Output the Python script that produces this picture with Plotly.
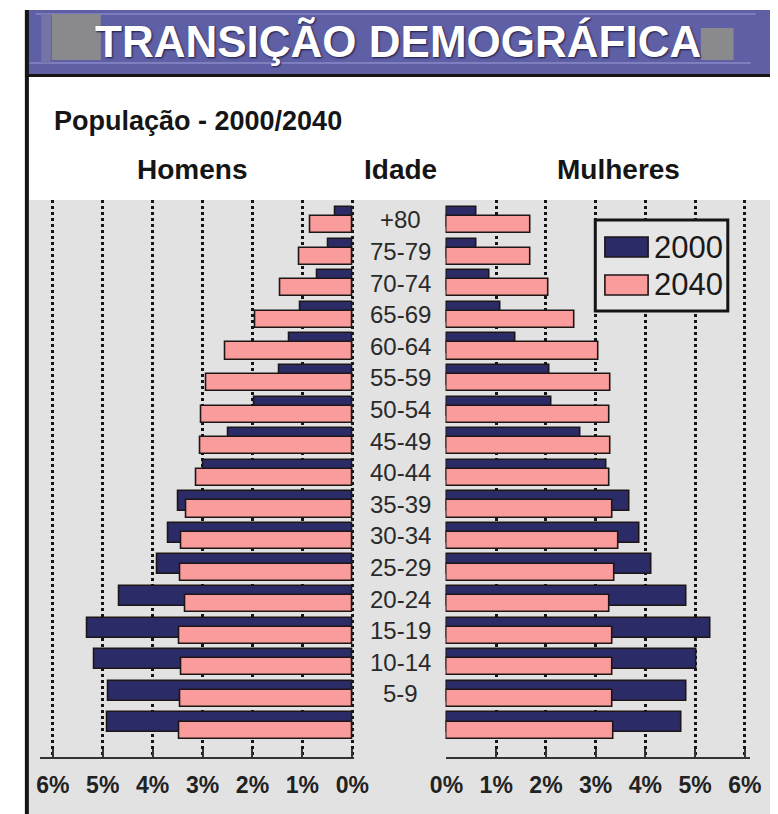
import plotly.graph_objects as go

# ---------------- data ----------------
ages = ["0-4", "5-9", "10-14", "15-19", "20-24", "25-29", "30-34", "35-39",
        "40-44", "45-49", "50-54", "55-59", "60-64", "65-69", "70-74", "75-79", "+80"]
age_labels = ["", "5-9", "10-14", "15-19", "20-24", "25-29", "30-34", "35-39",
              "40-44", "45-49", "50-54", "55-59", "60-64", "65-69", "70-74", "75-79", "+80"]
men_2000 = [4.90, 4.89, 5.17, 5.31, 4.67, 3.90, 3.69, 3.48,
            2.98, 2.48, 1.96, 1.46, 1.27, 1.04, 0.71, 0.48, 0.35]
men_2040 = [3.46, 3.44, 3.42, 3.46, 3.35, 3.44, 3.42, 3.33,
            3.13, 3.04, 3.02, 2.92, 2.54, 1.94, 1.44, 1.06, 0.85]
women_2000 = [4.72, 4.82, 5.03, 5.30, 4.82, 4.12, 3.89, 3.68,
              3.21, 2.70, 2.11, 2.07, 1.38, 1.09, 0.87, 0.61, 0.61]
women_2040 = [3.35, 3.33, 3.33, 3.33, 3.27, 3.37, 3.45, 3.33,
              3.27, 3.30, 3.27, 3.30, 3.06, 2.58, 2.06, 1.69, 1.69]
tick_vals = [0, 1, 2, 3, 4, 5, 6]
tick_text = ["0%", "1%", "2%", "3%", "4%", "5%", "6%"]
series_names = ["2000", "2040"]

# ---------------- style ----------------
W, H = 778, 814
OFF = 8  # page body margin offset
NAVY = "#2b2b68"
PINK = "#fb9c9c"
EDGE = "#1e1616"
BG = "#e2e2e2"
BANNER = "#5f5fa6"
FONT = "Liberation Sans, Arial, sans-serif"

row_pos = list(range(len(ages)))


def px(x):
    return (x - OFF) / W


def py(y):
    return 1 - (y - OFF) / H


fig = go.Figure()

bar_specs = [
    (men_2000, "x", NAVY, -0.22, 0.63, series_names[0]),
    (men_2040, "x", PINK, -0.42, 0.54, series_names[1]),
    (women_2000, "x2", NAVY, -0.22, 0.63, series_names[0]),
    (women_2040, "x2", PINK, -0.42, 0.54, series_names[1]),
]
for vals, xa, col, off, wid, name in bar_specs:
    fig.add_trace(go.Bar(
        x=vals, y=row_pos, orientation="h", xaxis=xa, yaxis="y",
        marker=dict(color=col, line=dict(color=EDGE, width=1.6)),
        offset=off, width=wid, name=name, showlegend=False,
        customdata=ages, hovertemplate="%{customdata}: %{x:.2f}%<extra>" + name + "</extra>",
    ))

axis_common = dict(
    tickvals=tick_vals, ticktext=tick_text,
    showgrid=True, gridcolor="#151515", gridwidth=2.5, griddash="dot",
    zeroline=False, showline=True, linecolor="#333333", linewidth=2,
    ticks="inside", ticklen=8, tickwidth=2, tickcolor="#333333",
    tickfont=dict(family=FONT, size=23, color="#222222", weight="bold"),
    ticklabelstandoff=6, anchor="y", fixedrange=True,
)

fig.update_layout(
    width=W, height=H,
    margin=dict(l=0, r=0, t=0, b=0),
    paper_bgcolor="white", plot_bgcolor="rgba(0,0,0,0)",
    barmode="overlay", bargap=0,
    xaxis=dict(domain=[px(25), px(352)], range=[6.25, -0.04], **axis_common),
    xaxis2=dict(domain=[px(447), px(764)], range=[-0.02, 6.1], **axis_common),
    yaxis=dict(domain=[py(757), py(200)], range=[-1.0, 16.63], visible=False,
               fixedrange=True),
)

shapes = []
# grey chart background
shapes.append(dict(type="rect", xref="paper", yref="paper", layer="below",
                   x0=px(13), x1=1, y0=0, y1=py(200), fillcolor=BG, line_width=0))
# banner
shapes.append(dict(type="rect", xref="paper", yref="paper", layer="above",
                   x0=px(9), x1=1, y0=py(74), y1=py(10), fillcolor=BANNER, line_width=0))
shapes.append(dict(type="line", xref="paper", yref="paper", layer="above",
                   x0=px(20), x1=px(770), y0=py(14), y1=py(14),
                   line=dict(color="#8484c4", width=1.5)))
shapes.append(dict(type="line", xref="paper", yref="paper", layer="above",
                   x0=px(14), x1=px(765), y0=py(63), y1=py(63),
                   line=dict(color="#8a8ac8", width=1.5)))
shapes.append(dict(type="rect", xref="paper", yref="paper", layer="above",
                   x0=px(37), x1=px(88), y0=py(60), y1=py(14), fillcolor="#8a8a8c", line_width=0))
shapes.append(dict(type="rect", xref="paper", yref="paper", layer="above",
                   x0=px(26), x1=px(36), y0=py(63), y1=py(14), fillcolor="#7474a8", line_width=0))
shapes.append(dict(type="rect", xref="paper", yref="paper", layer="above",
                   x0=px(713), x1=px(747), y0=py(60), y1=py(28), fillcolor="#8a8a8c", line_width=0))
shapes.append(dict(type="line", xref="paper", yref="paper", layer="above",
                   x0=px(9), x1=1, y0=py(75.5), y1=py(75.5),
                   line=dict(color="#151515", width=3)))
# left black border
shapes.append(dict(type="line", xref="paper", yref="paper", layer="above",
                   x0=px(11), x1=px(11), y0=0, y1=py(10),
                   line=dict(color="#151515", width=4)))
# legend box
shapes.append(dict(type="rect", xref="paper", yref="paper", layer="above",
                   x0=px(603), x1=px(741), y0=py(311), y1=py(220),
                   fillcolor="#e6e6e6", line=dict(color="#151515", width=3)))
shapes.append(dict(type="rect", xref="paper", yref="paper", layer="above",
                   x0=px(613), x1=px(658), y0=py(257), y1=py(237),
                   fillcolor=NAVY, line=dict(color=EDGE, width=1.6)))
shapes.append(dict(type="rect", xref="paper", yref="paper", layer="above",
                   x0=px(613), x1=px(658), y0=py(295), y1=py(275),
                   fillcolor=PINK, line=dict(color=EDGE, width=1.6)))
fig.update_layout(shapes=shapes)

ann = []
ann.append(dict(text="TRANSIÇÃO DEMOGRÁFICA", x=px(398), y=py(41), xref="paper", yref="paper",
                showarrow=False, xanchor="center", yanchor="middle",
                font=dict(family=FONT, size=44, color="white", weight="bold",
                          shadow="1px 1px 2px #1a1a40")))
ann.append(dict(text="População - 2000/2040", x=px(37), y=py(121), xref="paper", yref="paper",
                showarrow=False, xanchor="left", yanchor="middle",
                font=dict(family=FONT, size=27, color="#151515", weight="bold")))
for txt, xc in [("Homens", 183), ("Idade", 400), ("Mulheres", 627)]:
    ann.append(dict(text=txt, x=px(xc), y=py(169), xref="paper", yref="paper",
                    showarrow=False, xanchor="center", yanchor="middle",
                    font=dict(family=FONT, size=28, color="#151515", weight="bold")))
for pos, lab in zip(row_pos, age_labels):
    if lab:
        ann.append(dict(text=lab, x=px(400), y=pos, xref="paper", yref="y",
                        showarrow=False, xanchor="center", yanchor="middle",
                        font=dict(family=FONT, size=24, color="#2a2a2a")))
for name, yc in zip(series_names, [247, 285]):
    ann.append(dict(text=name, x=px(662), y=py(yc), xref="paper", yref="paper",
                    showarrow=False, xanchor="left", yanchor="middle",
                    font=dict(family=FONT, size=31, color="#1a1a1a")))
fig.update_layout(annotations=ann)

fig.write_html("out.html")
